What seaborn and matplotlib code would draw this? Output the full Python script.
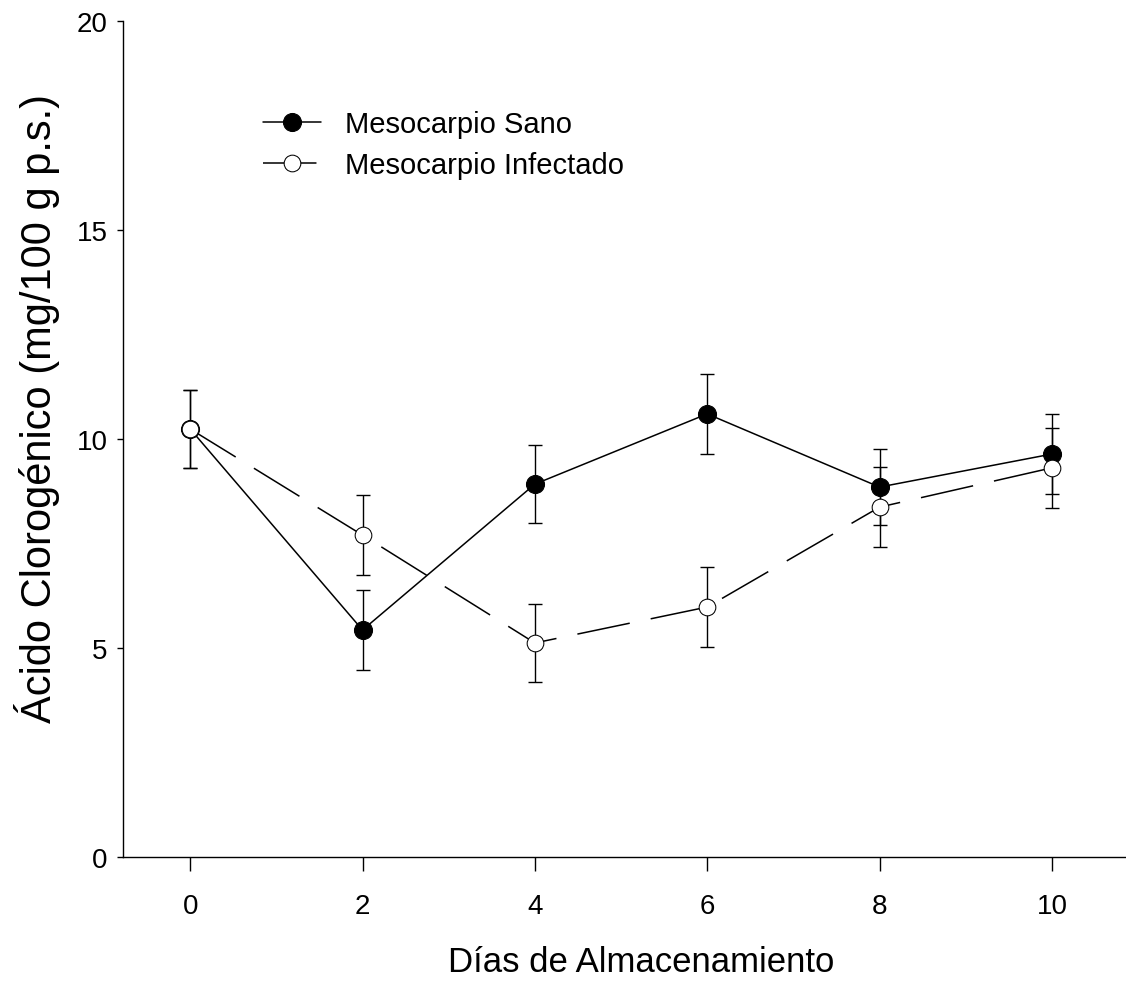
import seaborn as sns
import matplotlib.pyplot as plt
import pandas as pd


# datos
dias = [0, 2, 4, 6, 8, 10]
sano = [10.24, 5.43, 8.92, 10.60, 8.85, 9.64]
sano_err = [0.93, 0.96, 0.94, 0.96, 0.91, 0.96]
infectado = [10.24, 7.70, 5.12, 5.98, 8.37, 9.31]
infectado_err = [0.93, 0.96, 0.93, 0.95, 0.96, 0.96]

etiquetas = ['Mesocarpio Sano', 'Mesocarpio Infectado']
xticks = [0, 2, 4, 6, 8, 10]
yticks = [0, 5, 10, 15, 20]

df = pd.DataFrame({'dias': dias, 'sano': sano, 'infectado': infectado})

sns.set_style('ticks')
plt.rcParams['font.family'] = ['Liberation Sans', 'DejaVu Sans']
plt.rcParams['text.color'] = 'black'
plt.rcParams['axes.labelcolor'] = 'black'
plt.rcParams['xtick.color'] = 'black'
plt.rcParams['ytick.color'] = 'black'

fig = plt.figure(figsize=(11.26, 9.95), dpi=100)
ax = fig.add_axes([0.1092, 0.1377, 0.8908, 0.8402])

# barras de error
ax.errorbar(df['dias'], df['sano'], yerr=sano_err, fmt='none', ecolor='black',
            elinewidth=1.0, capsize=5, capthick=1.0, zorder=2)
ax.errorbar(df['dias'], df['infectado'], yerr=infectado_err, fmt='none', ecolor='black',
            elinewidth=1.0, capsize=5, capthick=1.0, zorder=2)

sns.lineplot(data=df, x='dias', y='sano', ax=ax, color='black', lw=1.1,
             marker='o', markersize=13, markerfacecolor='black', markeredgecolor='black',
             label=etiquetas[0], zorder=3)
sns.lineplot(data=df, x='dias', y='infectado', ax=ax, color='black', lw=1.1,
             marker='o', markersize=12, markerfacecolor='white', markeredgecolor='black',
             label=etiquetas[1], zorder=4)
ax.lines[-1].set_dashes((35, 14))

ax.set_xlim(-0.78, 10.86)
ax.set_ylim(0, 20)
ax.set_xticks(xticks)
ax.set_yticks(yticks)
ax.tick_params(axis='x', length=10, width=1, pad=16, labelsize=20)
ax.tick_params(axis='y', length=4, width=1, pad=7, labelsize=20)
sns.despine(ax=ax)
for s in ['left', 'bottom']:
    ax.spines[s].set_linewidth(1.0)
    ax.spines[s].set_color('black')

ax.set_xlabel('Días de Almacenamiento', fontsize=25)
ax.xaxis.set_label_coords(0.517, -0.105)
ax.set_ylabel('Ácido Clorogénico (mg/100 g p.s.)', fontsize=30)
ax.yaxis.set_label_coords(-0.063, 0.538)

leg = ax.legend(loc='upper left', bbox_to_anchor=(263 / 1126, (995 - 111) / 995),
                bbox_transform=fig.transFigure, frameon=False, fontsize=21,
                handlelength=2.0, handletextpad=0.8, labelspacing=0.45,
                borderpad=0, borderaxespad=0, numpoints=1)

plt.savefig('out.png', dpi=100)
